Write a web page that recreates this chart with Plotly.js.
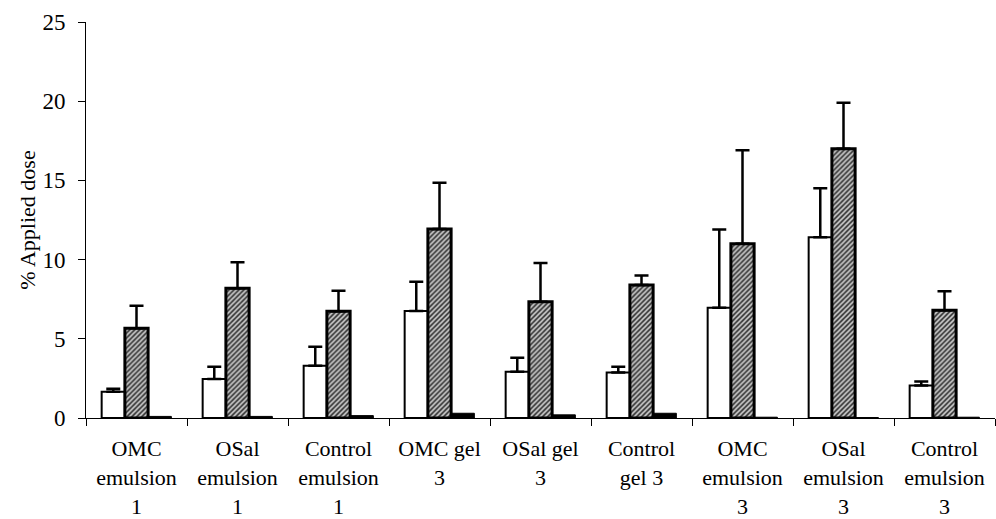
<!DOCTYPE html>
<html>
<head>
<meta charset="utf-8">
<script src="https://cdn.plot.ly/plotly-3.0.1.min.js"></script>
<style>html,body{margin:0;padding:0;background:#fff;}#chart{width:996px;height:519px;}</style>
</head>
<body>
<div id="chart"></div>
<script>
const categories = ["OMC<br>emulsion<br>1", "OSal<br>emulsion<br>1", "Control<br>emulsion<br>1",
  "OMC gel<br>3", "OSal gel<br>3", "Control<br>gel 3",
  "OMC<br>emulsion<br>3", "OSal<br>emulsion<br>3", "Control<br>emulsion<br>3"];
const whiteValues = [1.66, 2.46, 3.30, 6.75, 2.92, 2.88, 6.96, 11.41, 2.05];
const whiteErrors = [0.19, 0.78, 1.20, 1.85, 0.88, 0.36, 4.94, 3.09, 0.25];
const grayValues  = [5.66, 8.19, 6.74, 11.93, 7.34, 8.40, 11.00, 17.00, 6.80];
const grayErrors  = [1.43, 1.64, 1.30, 2.92, 2.44, 0.60, 5.90, 2.90, 1.20];
const blackValues = [0.10, 0.10, 0.15, 0.30, 0.20, 0.30, 0.05, 0.03, 0.05];
const yTicks = [0, 5, 10, 15, 20, 25];

const fam = "Liberation Serif, Times New Roman, serif";

const traces = [
  {
    type: "bar", x: categories, y: whiteValues, name: "white",
    marker: {color: "#ffffff", line: {color: "#000", width: 2}},
    error_y: {type: "data", symmetric: false, array: whiteErrors, arrayminus: whiteValues.map(() => 0),
      color: "#000", thickness: 2.5, width: 7}
  },
  {
    type: "bar", x: categories, y: grayValues, name: "gray",
    marker: {color: "#999999", line: {color: "#000", width: 3},
      pattern: {shape: "/", bgcolor: "#c8c8c8", fgcolor: "#2a2a2a", size: 3.5, solidity: 0.45}},
    error_y: {type: "data", symmetric: false, array: grayErrors, arrayminus: grayValues.map(() => 0),
      color: "#000", thickness: 2.5, width: 7}
  },
  {
    type: "bar", x: categories, y: blackValues, name: "black",
    marker: {color: "#000000", line: {color: "#000", width: 1}}
  }
];

const layout = {
  width: 996, height: 519,
  margin: {l: 86, r: 1, t: 22, b: 101},
  paper_bgcolor: "#fff", plot_bgcolor: "#fff",
  showlegend: false,
  barmode: "group", bargap: 0.31, bargroupgap: 0,
  font: {family: fam, color: "#000", size: 22},
  xaxis: {
    type: "category",
    showline: true, linecolor: "#000", linewidth: 1,
    ticks: "outside", tickson: "boundaries", ticklen: 7, tickcolor: "#000", tickwidth: 1,
    showgrid: false, zeroline: false,
    tickfont: {family: fam, size: 22, color: "#000"},
    tickangle: 0, ticklabelstandoff: 11
  },
  yaxis: {
    range: [0, 25], tickvals: yTicks, ticktext: yTicks.map(String),
    showline: true, linecolor: "#000", linewidth: 1,
    ticks: "outside", ticklen: 7, tickcolor: "#000", tickwidth: 1,
    showgrid: false, zeroline: false,
    tickfont: {family: fam, size: 23, color: "#000"},
    ticklabelstandoff: 8,
    title: {text: "% Applied dose", font: {family: fam, size: 22, color: "#000"}, standoff: 0}
  }
};

Plotly.newPlot("chart", traces, layout, {displayModeBar: false, staticPlot: true});
</script>
</body>
</html>
